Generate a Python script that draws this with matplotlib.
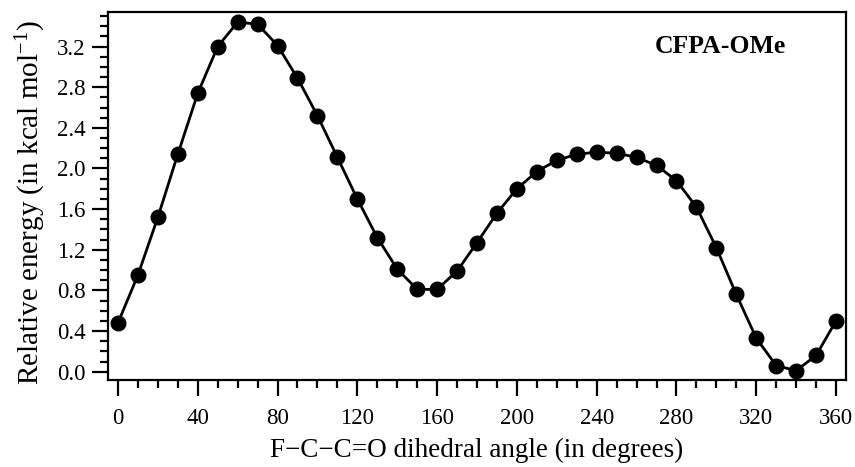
import numpy as np
import matplotlib
matplotlib.use("Agg")
import matplotlib.pyplot as plt
from matplotlib.ticker import MultipleLocator

# dihedral scan
angle = list(range(0, 361, 10))
energy = [0.48, 0.95, 1.52, 2.14, 2.74, 3.20, 3.44, 3.42, 3.21, 2.89,
          2.52, 2.11, 1.70, 1.32, 1.01, 0.81, 0.81, 0.99, 1.27, 1.56,
          1.80, 1.97, 2.08, 2.14, 2.16, 2.15, 2.11, 2.03, 1.88, 1.62,
          1.22, 0.76, 0.33, 0.06, 0.01, 0.16, 0.50]

x_label = "F\u2212C\u2212C=O dihedral angle (in degrees)"
y_label = r"Relative energy (in kcal mol$^{-1}$)"
tag = "CFPA-OMe"

plt.rcParams["font.family"] = ["Liberation Serif", "DejaVu Serif"]
plt.rcParams["mathtext.default"] = "regular"

fig = plt.figure(figsize=(8.55, 4.67), dpi=100)
ax = fig.add_axes([0.1263, 0.1863, 0.8632, 0.788])

ax.plot(angle, energy, color="black", lw=2, marker="o", ms=10.5,
        markerfacecolor="black", markeredgecolor="black")

ax.set_xlim(-5, 365)
ax.set_ylim(-0.082, 3.54)

ax.xaxis.set_major_locator(MultipleLocator(40))
ax.xaxis.set_minor_locator(MultipleLocator(10))
ax.yaxis.set_major_locator(MultipleLocator(0.4))
ax.yaxis.set_minor_locator(MultipleLocator(0.1))
ax.yaxis.set_major_formatter(plt.FuncFormatter(lambda v, p: f"{v:.1f}"))

for s in ax.spines.values():
    s.set_linewidth(1.6)

ax.tick_params(which="major", direction="out", length=11.5, width=1.6,
               labelsize=16.5)
ax.tick_params(which="minor", direction="out", length=5.5, width=1.6)
ax.tick_params(axis="x", which="major", pad=9)
ax.tick_params(axis="y", which="major", pad=4.5)
ax.tick_params(top=False, right=False, which="both")

ax.set_xlabel(x_label, fontsize=19.5, labelpad=6)
ax.set_ylabel(y_label, fontsize=21)
ax.yaxis.set_label_coords(-0.081, 0.481)

ax.text(0.918, 0.906, tag, transform=ax.transAxes, ha="right", va="center",
        fontsize=18.5, fontweight="bold")

fig.savefig("out.png", dpi=100)
